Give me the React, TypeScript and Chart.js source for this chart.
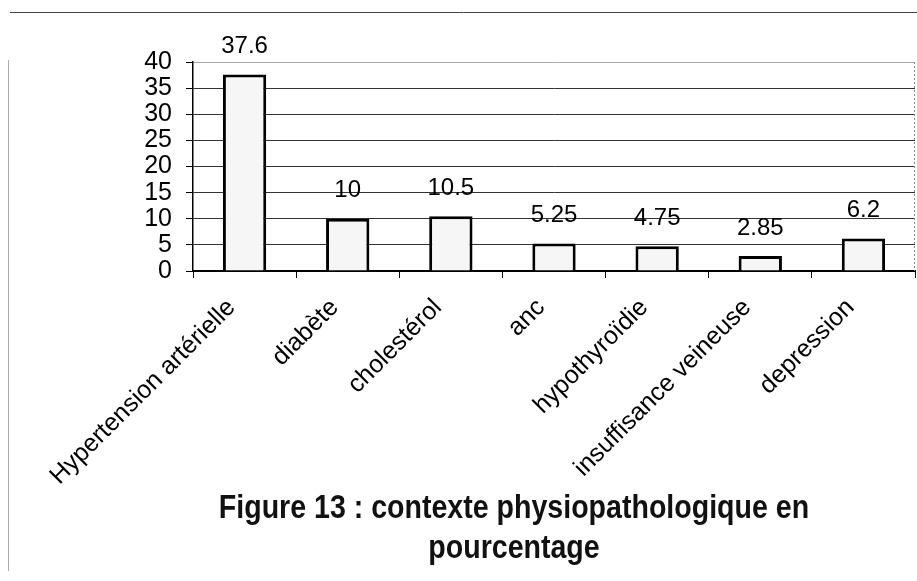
import React, { useEffect, useRef } from "react";
import { Chart, registerables } from "chart.js";

Chart.register(...registerables);

const categories = [
  "Hypertension artérielle",
  "diabète",
  "cholestérol",
  "anc",
  "hypothyroïdie",
  "insuffisance veineuse",
  "depression",
];
const values = [37.6, 10, 10.5, 5.25, 4.75, 2.85, 6.2];
const valueLabels = ["37.6", "10", "10.5", "5.25", "4.75", "2.85", "6.2"];
const yMin = 0;
const yMax = 40;
const yStep = 5;
const titleLines = ["Figure 13 : contexte physiopathologique en", "pourcentage"];

const FONT = "'Liberation Sans', Arial, sans-serif";

const valueLabelPlugin = {
  id: "valueLabels",
  afterDatasetsDraw(chart: any) {
    const { ctx } = chart;
    const meta = chart.getDatasetMeta(0);
    ctx.save();
    ctx.font = `24px ${FONT}`;
    ctx.fillStyle = "#000";
    ctx.textAlign = "center";
    ctx.textBaseline = "middle";
    meta.data.forEach((bar: any, i: number) => {
      ctx.fillText(valueLabels[i], bar.x, bar.y - 28);
    });
    ctx.restore();
  },
};

const titlePlugin = {
  id: "condensedTitle",
  afterDraw(chart: any) {
    const { ctx } = chart;
    ctx.save();
    ctx.font = `bold 34px ${FONT}`;
    ctx.fillStyle = "#111";
    ctx.textAlign = "center";
    ctx.textBaseline = "middle";
    titleLines.forEach((line, i) => {
      ctx.save();
      ctx.translate(514, 509 + i * 40);
      ctx.scale(0.84, 1);
      ctx.fillText(line, 0, 0);
      ctx.restore();
    });
    ctx.restore();
  },
};

const framePlugin = {
  id: "frame",
  beforeDraw(chart: any) {
    const { ctx, width, height } = chart;
    ctx.save();
    ctx.fillStyle = "#fff";
    ctx.fillRect(0, 0, width, height);
    ctx.strokeStyle = "#444";
    ctx.lineWidth = 1;
    ctx.beginPath();
    ctx.moveTo(10, 12.5);
    ctx.lineTo(width, 12.5);
    ctx.stroke();
    ctx.strokeStyle = "#aaa";
    ctx.beginPath();
    ctx.moveTo(8.5, 60);
    ctx.lineTo(8.5, height - 10);
    ctx.stroke();
    ctx.restore();
  },
  afterDraw(chart: any) {
    const { ctx, chartArea } = chart;
    ctx.save();
    ctx.strokeStyle = "#888";
    ctx.lineWidth = 1;
    ctx.setLineDash([2, 2]);
    ctx.beginPath();
    ctx.moveTo(chartArea.right - 0.5, chartArea.top);
    ctx.lineTo(chartArea.right - 0.5, chartArea.bottom);
    ctx.stroke();
    ctx.restore();
  },
};

export default function App() {
  const ref = useRef<HTMLCanvasElement>(null);
  useEffect(() => {
    document.body.style.margin = "0";
    const chart = new Chart(ref.current as HTMLCanvasElement, {
      type: "bar",
      data: {
        labels: categories,
        datasets: [
          {
            data: values,
            backgroundColor: "#f6f6f6",
            borderColor: "#000",
            borderWidth: 3,
            categoryPercentage: 1,
            barPercentage: 0.42,
          },
        ],
      },
      options: {
        animation: false,
        responsive: false,
        maintainAspectRatio: false,
        layout: { padding: { top: 62, right: 2, left: 0, bottom: 70 } },
        plugins: {
          legend: { display: false },
          tooltip: { enabled: false },
          title: { display: false },
        },
        scales: {
          x: {
            offset: true,
            grid: { drawOnChartArea: false, drawTicks: true, tickLength: 7, tickColor: "#000", offset: true },
            border: { color: "#000", width: 2 },
            ticks: {
              autoSkip: false,
              minRotation: 45,
              maxRotation: 45,
              padding: 15,
              labelOffset: -13,
              color: "#000",
              font: { family: FONT, size: 25 },
            },
            afterFit(scale: any) {
              scale.height = 240;
            },
          },
          y: {
            min: yMin,
            max: yMax,
            grid: {
              color: (c: any) => (c.tick && c.tick.value === yMax ? "#aaa" : "#333"),
              lineWidth: 1,
              tickLength: 7,
              tickColor: "#000",
            },
            border: { color: "#000", width: 1.5 },
            ticks: {
              stepSize: yStep,
              autoSkip: false,
              color: "#000",
              padding: 14,
              font: { family: FONT, size: 25 },
            },
            afterFit(scale: any) {
              scale.width = 193;
            },
          },
        },
      },
      plugins: [valueLabelPlugin, titlePlugin, framePlugin],
    });
    return () => chart.destroy();
  }, []);
  return (
    <div style={{ width: 917, height: 581 }}>
      <canvas ref={ref} width={917} height={581} style={{ display: "block" }} />
    </div>
  );
}
